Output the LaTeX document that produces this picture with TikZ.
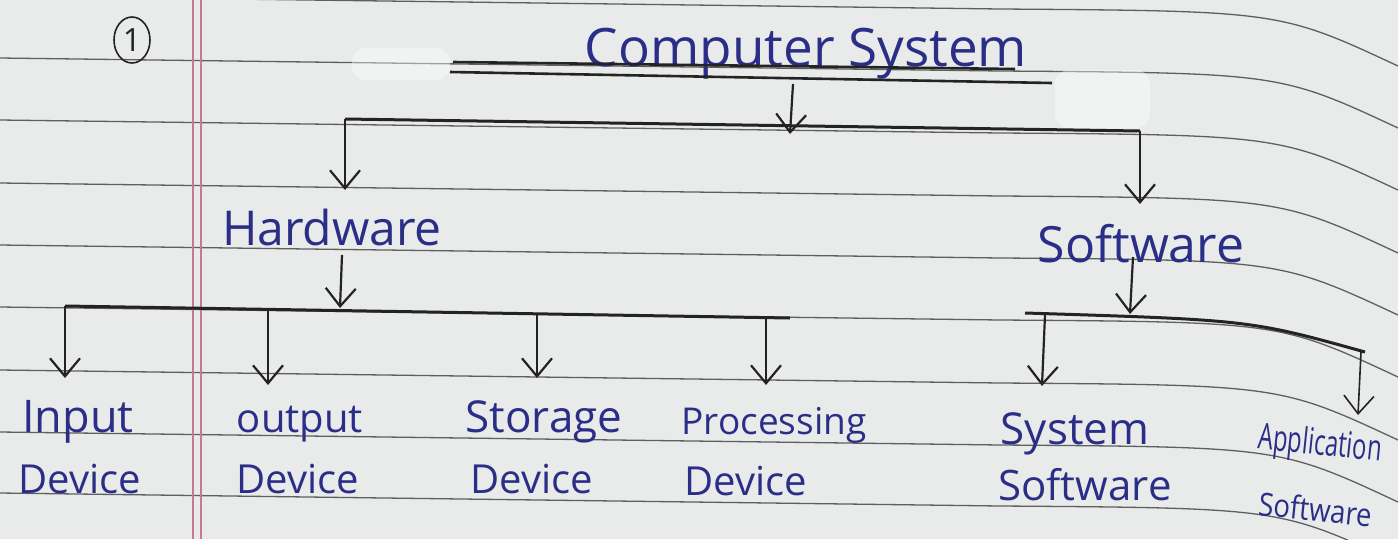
\documentclass[tikz,border=0pt]{standalone}
\usepackage{fontspec}
\setmainfont{Open Sans}
\usetikzlibrary{arrows.meta}
\definecolor{paper}{RGB}{233,235,234}
\definecolor{ruleg}{RGB}{95,95,95}
\definecolor{inkb}{RGB}{42,46,135}
\definecolor{inkk}{RGB}{35,35,35}
\definecolor{marginc}{RGB}{200,120,150}
\begin{document}
\begin{tikzpicture}[x=1pt,y=-1pt,
  ruled/.style={draw=ruleg,line width=1.3pt},
  bar/.style={draw=inkk,line width=3pt},
  conn/.style={draw=inkk,line width=2.2pt,-{Straight Barb[length=18pt,width=30pt]}},
  lbl/.style={text=inkb,inner sep=0pt,anchor=base,font=\fontsize{#1}{#1}\selectfont},
  smudge/.style={fill=white,opacity=0.4,rounded corners=14pt}
]
\useasboundingbox (0,0) rectangle (1398,539);
\clip (0,0) rectangle (1398,539);
\fill[paper] (0,0) rectangle (1398,539);
% ruled lines
\foreach \y in {-4,58,120,183,245,307,370,432,493}
  \draw[ruled] (0,\y) -- (1000,\y+13) .. controls (1280,\y+15) .. (1398,\y+70);
% margin
\draw[marginc,line width=1.5pt] (193,0) -- (193,539);
\draw[marginc,line width=1.5pt] (201,0) -- (201,539);
% smudges
\fill[smudge] (352,48) rectangle (450,80);
\fill[smudge] (1055,70) rectangle (1150,128);
% number
\draw[inkk,line width=1.6pt] (132,40) ellipse (18 and 23);
\node[text=inkk,inner sep=0pt,font=\fontsize{32}{32}\selectfont] (num) at (132,40) {1};

% title
\node[lbl=53] (cs) at (806,66) {Computer System};
\coordinate (ul1a) at (453,62);  \coordinate (ul1b) at (1015,69);
\coordinate (ul2a) at (450,72);  \coordinate (ul2b) at (1052,83);
\draw[inkk,line width=2.6pt] (ul1a) -- (ul1b);
\draw[inkk,line width=2.6pt] (ul2a) -- (ul2b);

% level 1
\coordinate (cs0) at (793,84);
\coordinate (j0) at (790,134);
\coordinate (b0l) at (345,119);
\coordinate (b0r) at (1140,131);
\coordinate (hwt) at (345,190);
\coordinate (swt) at (1140,204);
\draw[conn] (cs0) -- (j0);
\draw[bar] (b0l) -- (b0r);
\draw[conn] (b0l) -- (hwt);
\draw[conn] (b0r) -- (swt);

\node[lbl=48] (hw) at (332,245) {Hardware};
\node[lbl=50] (sw) at (1141,262) {Software};

% hardware branch
\coordinate (hw0) at (342,255);
\coordinate (hwj) at (340,308);
\coordinate (b1l) at (65,306);
\coordinate (b1r) at (790,318);
\coordinate (b1a) at (268,309);
\coordinate (b1b) at (537,313);
\coordinate (b1c) at (766,317);
\draw[conn] (hw0) -- (hwj);
\draw[bar] (b1l) -- (b1r);
\draw[conn] (b1l) -- (65,378);
\draw[conn] (b1a) -- (268,385);
\draw[conn] (b1b) -- (537,378);
\draw[conn] (b1c) -- (766,385);

\node[lbl=45] (in1) at (78,432) {Input};
\node[lbl=40] (in2) at (80,493) {Device};
\node[lbl=40] (out1) at (300,432) {output};
\node[lbl=40] (out2) at (298,493) {Device};
\node[lbl=44] (st1) at (544,432) {Storage};
\node[lbl=40] (st2) at (532,493) {Device};
\node[lbl=37] (pr1) at (774,434) {Processing};
\node[lbl=40] (pr2) at (746,495) {Device};

% software branch
\coordinate (sw0) at (1133,257);
\coordinate (swj) at (1130,314);
\coordinate (b2l) at (1025,313);
\coordinate (b2r) at (1365,352);
\coordinate (b2a) at (1045,315);
\coordinate (b2b) at (1361,352);
\draw[conn] (sw0) -- (swj);
\draw[bar] (b2l) .. controls (1250,320) .. (b2r);
\draw[conn] (b2a) -- (1042,386);
\draw[conn,line width=1.6pt] (b2b) -- (1358,415);

\node[lbl=44] (sy1) at (1075,444) {System};
\node[lbl=42] (sy2) at (1085,500) {Software};
\node[lbl=36,rotate=-6] (ap1) at (1319,455) {\scalebox{0.66}[1]{Application}};
\node[lbl=32,rotate=-6] (ap2) at (1314,521) {\scalebox{0.86}[1]{Software}};
\end{tikzpicture}
\end{document}
